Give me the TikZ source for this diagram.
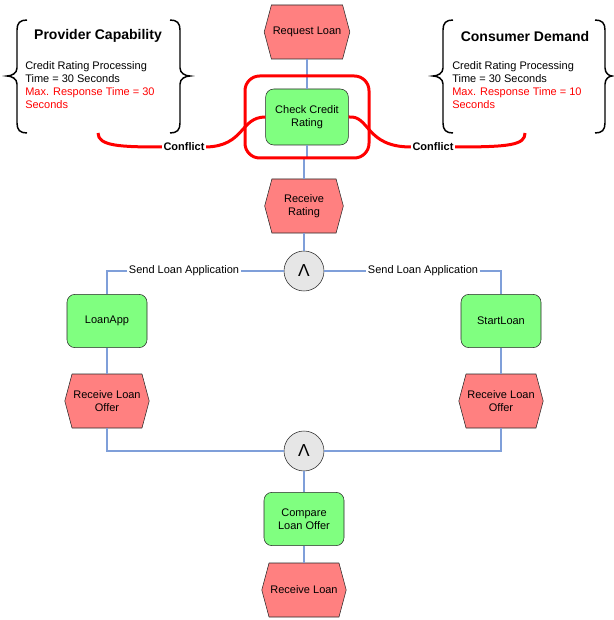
\documentclass[tikz,border=0pt]{standalone}
\usepackage{fontspec}
\setmainfont{Liberation Sans}
\usepackage{xcolor}
\usetikzlibrary{shapes.symbols}

\definecolor{evtred}{HTML}{FF8080}
\definecolor{funcgreen}{HTML}{80FF80}
\definecolor{gatefill}{HTML}{E6E6E6}
\definecolor{linkblue}{HTML}{7F9FD9}

\begin{document}
\begin{tikzpicture}[x=0.75pt,y=-0.75pt,
  event/.style={signal, signal to=east and west, signal pointer angle=150, draw=black!85, fill=evtred,
    minimum width=59pt, minimum height=40.5pt, inner sep=1pt, align=center,
    font=\fontsize{8.25pt}{9.75pt}\selectfont},
  func/.style={rectangle, rounded corners=6pt, draw=black!85, fill=funcgreen,
    minimum width=60pt, minimum height=40pt, inner sep=1pt, align=center,
    font=\fontsize{8.25pt}{9.75pt}\selectfont},
  gate/.style={circle, draw=black!85, fill=gatefill, minimum size=30pt, inner sep=0pt,
    font=\fontsize{13pt}{13pt}\selectfont},
  conn/.style={draw=linkblue, line width=0.9pt},
  conflict/.style={draw=red, line width=2.25pt},
  brace/.style={draw=black, line width=1.1pt},
  lbl/.style={inner sep=1pt, font=\fontsize{8.25pt}{9.75pt}\selectfont}
  ]
\useasboundingbox (0,0) rectangle (613,620);

% process chain
\node[event] (req) at (307,32) {Request Loan};
\node[func, minimum width=62pt, minimum height=42pt] (chk) at (307,117) {Check Credit\\Rating};
\node[event] (rcv) at (304,206) {Receive\\Rating};
\node[gate] (g1) at (304,271) {Λ};
\node[func] (app) at (107,321) {LoanApp};
\node[func] (start) at (501,321) {StartLoan};
\node[event] (offL) at (107,401) {Receive Loan\\Offer};
\node[event] (offR) at (501,401) {Receive Loan\\Offer};
\node[gate] (g2) at (304,451) {Λ};
\node[func] (cmp) at (304,519) {Compare\\Loan Offer};
\node[event] (rln) at (304,590) {Receive Loan};

\node[lbl] (sendL) at (184,271) {Send Loan Application};
\node[lbl] (sendR) at (423,271) {Send Loan Application};

% connectors
\draw[conn] (req.south) -- (chk.north);
\draw[conn] (chk.south) -- ++(0,13) -| (rcv.north);
\draw[conn] (rcv.south) -- (g1.north);
\draw[conn] (g1.west) -- (sendL.east);
\draw[conn] (sendL.west) -| (app.north);
\draw[conn] (g1.east) -- (sendR.west);
\draw[conn] (sendR.east) -| (start.north);
\draw[conn] (app.south) -- (offL.north);
\draw[conn] (start.south) -- (offR.north);
\draw[conn] (offL.south) |- (g2.west);
\draw[conn] (offR.south) |- (g2.east);
\draw[conn] (g2.south) -- (cmp.north);
\draw[conn] (cmp.south) -- (rln.north);

% provider capability
\node[font=\fontsize{10.5pt}{12pt}\selectfont\bfseries] (provT) at (98,36) {Provider Capability};
\node[anchor=west, align=left, inner sep=0pt, font=\fontsize{8.25pt}{9.75pt}\selectfont] (provB) at (25,85)
  {Credit Rating Processing\\Time = 30 Seconds\\\textcolor{red}{Max. Response Time = 30}\\\textcolor{red}{Seconds}};
\draw[brace] (27,20) .. controls (20,20) and (17,23) .. (17,30) -- (17,68)
  .. controls (17,73) and (12,76) .. (7,76) .. controls (12,76) and (17,79) .. (17,84)
  -- (17,123) .. controls (17,130) and (20,133) .. (27,133);
\draw[brace] (170,20) .. controls (177,20) and (180,23) .. (180,30) -- (180,68)
  .. controls (180,73) and (185,76) .. (190,76) .. controls (185,76) and (180,79) .. (180,84)
  -- (180,123) .. controls (180,130) and (177,133) .. (170,133);

% consumer demand
\node[font=\fontsize{10.5pt}{12pt}\selectfont\bfseries] (consT) at (525,36) {Consumer Demand};
\node[anchor=west, align=left, inner sep=0pt, font=\fontsize{8.25pt}{9.75pt}\selectfont] (consB) at (452,85)
  {Credit Rating Processing\\Time = 30 Seconds\\\textcolor{red}{Max. Response Time = 10}\\\textcolor{red}{Seconds}};
\draw[brace] (453,20) .. controls (446,20) and (443,23) .. (443,30) -- (443,68)
  .. controls (443,73) and (438,76) .. (433,76) .. controls (438,76) and (443,79) .. (443,84)
  -- (443,123) .. controls (443,130) and (446,133) .. (453,133);
\draw[brace] (595,20) .. controls (602,20) and (605,23) .. (605,30) -- (605,68)
  .. controls (605,73) and (609,76) .. (612,76) .. controls (609,76) and (605,79) .. (605,84)
  -- (605,123) .. controls (605,130) and (602,133) .. (595,133);

% conflicts
\node[draw=red, line width=2.25pt, rounded corners=11pt, minimum width=93pt, minimum height=61.5pt] (focus) at (307,117) {};
\coordinate (provEnd) at (98,133);
\coordinate (consEnd) at (525,133);
\node[lbl, font=\fontsize{8.25pt}{9.75pt}\selectfont\bfseries] (conflictL) at (184,147) {Conflict};
\node[lbl, font=\fontsize{8.25pt}{9.75pt}\selectfont\bfseries] (conflictR) at (433,147) {Conflict};
\draw[conflict] (provEnd) .. controls (98,146) and (120,147) .. (conflictL.west);
\draw[conflict] (conflictL.east) .. controls (245,146) and (240,117) .. (chk.west);
\draw[conflict] (chk.east) .. controls (370,115) and (365,147) .. (conflictR.west);
\draw[conflict] (conflictR.east) .. controls (510,147) and (525,145) .. (consEnd);
\end{tikzpicture}
\end{document}
